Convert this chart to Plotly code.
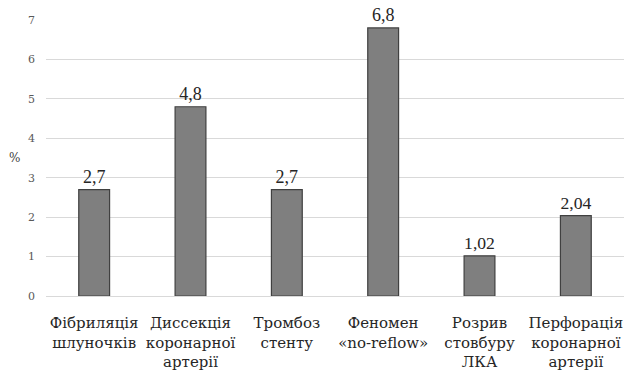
import plotly.graph_objects as go

categories = [
    "Фібриляція<br>шлуночків",
    "Диссекція<br>коронарної<br>артерії",
    "Тромбоз<br>стенту",
    "Феномен<br>«no-reflow»",
    "Розрив<br>стовбуру<br>ЛКА",
    "Перфорація<br>коронарної<br>артерії",
]
values = [2.7, 4.8, 2.7, 6.8, 1.02, 2.04]
value_labels = ["2,7", "4,8", "2,7", "6,8", "1,02", "2,04"]
y_ticks = [0, 1, 2, 3, 4, 5, 6, 7]

serif = "Liberation Serif"
serif_alt = "DejaVu Serif"

fig = go.Figure(
    go.Bar(
        x=categories,
        y=values,
        text=value_labels,
        textposition="outside",
        textfont=dict(family=serif, size=18, color="#262626"),
        cliponaxis=False,
        marker=dict(color="#7f7f7f", line=dict(color="#404040", width=1.2)),
    )
)

fig.update_layout(
    width=624,
    height=372,
    margin=dict(l=46, r=0, t=20, b=76, autoexpand=False),
    paper_bgcolor="white",
    plot_bgcolor="white",
    bargap=0.68,
    showlegend=False,
    font=dict(family=serif_alt),
)

fig.update_xaxes(
    tickfont=dict(family=serif_alt, size=15, color="#262626"),
    showline=False,
    ticks="",
    ticklabelstandoff=16,
    automargin=False,
)
fig.update_yaxes(
    range=[0, 7],
    tickvals=y_ticks,
    tickfont=dict(family=serif_alt, size=11, color="#595959"),
    showgrid=True,
    gridcolor="#d9d9d9",
    gridwidth=1,
    zeroline=True,
    zerolinecolor="#d9d9d9",
    zerolinewidth=1,
    ticks="",
    ticklabelstandoff=10,
    automargin=False,
)

fig.add_annotation(
    text="%",
    xref="paper",
    yref="paper",
    x=-0.055,
    y=0.5,
    xanchor="center",
    yanchor="middle",
    showarrow=False,
    font=dict(family=serif_alt, size=12, color="#404040"),
)

fig.write_html("out.html")
